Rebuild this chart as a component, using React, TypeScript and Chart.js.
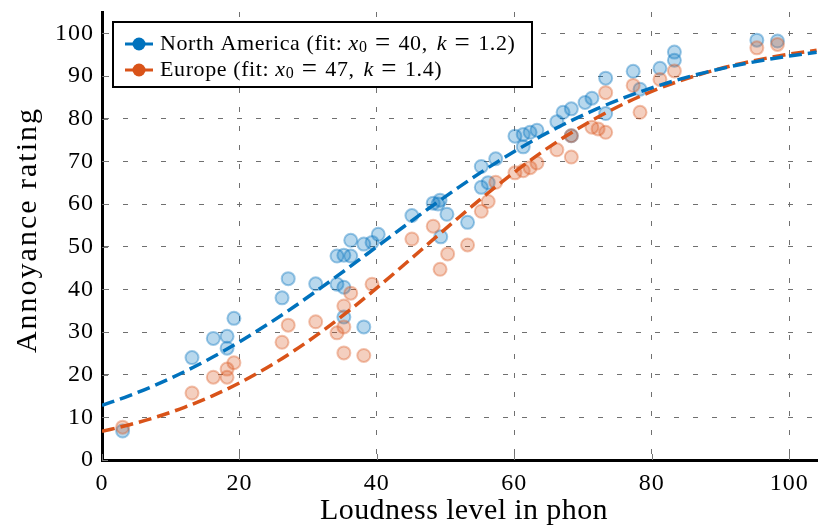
import React, { useEffect, useRef } from "react";
import { Chart, registerables } from "chart.js";
Chart.register(...registerables);

// ---- data ----
const seriesNames = ["North America", "Europe"];
const fitX0 = [40, 47];
const fitK = [1.2, 1.4];
const xTitle = "Loudness level in phon";
const yTitle = "Annoyance rating";

const naLoudness = [3, 13.1, 16.2, 18.2, 18.2, 19.2, 26.2, 27.1, 31.1, 34.2, 35.2, 36.2, 36.2, 34.2, 35.2, 35.2, 38.1, 38.1, 39.3, 40.2, 45.1, 48.2, 49.2, 48.9, 50.2, 49.3, 53.2, 55.2, 55.2, 56.2, 57.3, 60.1, 61.3, 61.3, 62.3, 63.3, 66.2, 67.1, 68.3, 68.3, 70.3, 71.3, 73.3, 73.3, 77.3, 78.3, 81.2, 83.3, 83.3, 95.3, 98.3];
const naRating = [6.8, 24, 28.5, 29, 26.2, 33.2, 38, 42.5, 41.3, 47.8, 48, 47.8, 51.5, 41.2, 40.5, 33.5, 31.2, 50.6, 51, 52.9, 57.3, 60.2, 60.9, 60, 57.6, 52.3, 55.7, 68.8, 63.9, 65, 70.6, 75.9, 76.3, 73.4, 76.8, 77.3, 79.3, 81.5, 82.3, 76, 83.8, 84.8, 89.5, 81.2, 91.1, 86.9, 91.8, 95.6, 93.7, 98.4, 98.2];

const euLoudness = [3, 13.1, 16.2, 18.2, 18.2, 19.2, 26.2, 27.1, 31.1, 34.2, 35.2, 35.2, 35.2, 36.2, 38.1, 39.3, 45.1, 48.2, 49.2, 50.3, 53.2, 55.2, 56.2, 57.3, 60.1, 61.3, 62.3, 63.3, 66.2, 68.3, 68.3, 71.3, 72.2, 73.3, 73.3, 77.3, 78.3, 81.2, 83.3, 95.3, 98.3];
const euRating = [7.7, 15.7, 19.4, 21.3, 19.4, 22.8, 27.6, 31.6, 32.4, 29.8, 36.1, 31.2, 25.1, 39.1, 24.5, 41.2, 51.8, 54.8, 44.7, 48.3, 50.4, 58.3, 60.6, 65.1, 67.3, 67.8, 68.5, 69.6, 72.7, 76, 71, 78, 77.6, 76.8, 86.1, 87.8, 81.5, 89.2, 91.2, 96.6, 97.4];

// fitted curves, sampled every 4 phon
const fitLoudness = [0, 4, 8, 12, 16, 20, 24, 28, 32, 36, 40, 44, 48, 52, 56, 60, 64, 68, 72, 76, 80, 84, 88, 92, 96, 100, 104];
const naFit = [12.79, 15.09, 17.71, 20.69, 24.01, 27.69, 31.69, 35.98, 40.52, 45.21, 50, 54.79, 59.48, 64.02, 68.31, 72.31, 75.99, 79.31, 82.29, 84.91, 87.21, 89.21, 90.92, 92.39, 93.63, 94.69, 95.57];
const euFit = [6.71, 8.26, 10.12, 12.35, 14.98, 18.06, 21.62, 25.65, 30.15, 35.07, 40.32, 45.81, 51.4, 56.96, 62.34, 67.43, 72.15, 76.42, 80.22, 83.53, 86.39, 88.82, 90.85, 92.55, 93.96, 95.11, 96.05];

const xTicks = [0, 20, 40, 60, 80, 100];
const yTicks = [0, 10, 20, 30, 40, 50, 60, 70, 80, 90, 100];

const BLUE = "#0072BD";
const ORANGE = "#D95319";
const SERIF = "'Liberation Serif', 'Times New Roman', serif";

const pts = (xs: number[], ys: number[]) => xs.map((x, i) => ({ x, y: ys[i] }));

const extrasPlugin = {
  id: "extras",
  beforeDraw(chart: any) {
    (chart.ctx as any).letterSpacing = "1px";
  },
  afterDraw(chart: any) {
    const ctx = chart.ctx as CanvasRenderingContext2D;
    const area = chart.chartArea;
    const xs = chart.scales.x;
    const ys = chart.scales.y;
    ctx.save();
    // inward tick marks
    ctx.strokeStyle = "#777";
    ctx.lineWidth = 1;
    yTicks.forEach((t) => {
      const py = Math.round(ys.getPixelForValue(t)) + 0.5;
      ctx.beginPath();
      ctx.moveTo(area.left, py);
      ctx.lineTo(area.left + 6, py);
      ctx.stroke();
    });
    xTicks.forEach((t) => {
      const px = Math.round(xs.getPixelForValue(t)) + 0.5;
      ctx.beginPath();
      ctx.moveTo(px, area.bottom);
      ctx.lineTo(px, area.bottom - 6);
      ctx.stroke();
    });

    // axis titles
    ctx.fillStyle = "#000";
    ctx.font = `30px ${SERIF}`;
    (ctx as any).letterSpacing = "0.4px";
    ctx.textAlign = "center";
    ctx.textBaseline = "alphabetic";
    ctx.fillText(xTitle, (area.left + area.right) / 2 + 4, 519);
    ctx.save();
    ctx.translate(28, (area.top + area.bottom) / 2 - 6);
    ctx.rotate(-Math.PI / 2);
    (ctx as any).letterSpacing = "2px";
    ctx.textBaseline = "middle";
    ctx.fillText(yTitle, 0, 0);
    ctx.restore();

    // legend
    const bx = 113, by = 22, bw = 419, bh = 65;
    ctx.fillStyle = "#fff";
    ctx.fillRect(bx, by, bw, bh);
    ctx.strokeStyle = "#000";
    ctx.lineWidth = 2;
    ctx.strokeRect(bx, by, bw, bh);
    const colors = [BLUE, ORANGE];
    const rows = [44, 70];
    seriesNames.forEach((name, i) => {
      const cy = rows[i];
      ctx.strokeStyle = colors[i];
      ctx.lineWidth = 3;
      ctx.beginPath();
      ctx.moveTo(125, cy);
      ctx.lineTo(153, cy);
      ctx.stroke();
      ctx.fillStyle = colors[i];
      ctx.beginPath();
      ctx.arc(139, cy, 6.5, 0, Math.PI * 2);
      ctx.fill();
      // [text, style, dy, gapBefore, slotWidth]
      const parts: [string, string, number, number, number][] = [
        [name + " (fit: ", "normal", 0, 0, 0],
        ["x", "italic", 0, 0, 0],
        ["0", "sub", 4, 0, 0],
        ["=", "eq", 0, 5, 20],
        [String(fitX0[i]) + ",", "normal", 0, 6, 0],
        ["k", "italic", 0, 9, 0],
        ["=", "eq", 0, 5, 20],
        [fitK[i].toFixed(1) + ")", "normal", 0, 6, 0],
      ];
      let x = 160;
      ctx.fillStyle = "#000";
      ctx.textBaseline = "middle";
      (ctx as any).letterSpacing = "0.6px";
      parts.forEach(([t, st, dy, gap, slot]) => {
        if (st === "italic") ctx.font = `italic 22px ${SERIF}`;
        else if (st === "sub") ctx.font = `16px ${SERIF}`;
        else if (st === "eq") ctx.font = `27px ${SERIF}`;
        else ctx.font = `22px ${SERIF}`;
        x += gap;
        const w = ctx.measureText(t).width;
        if (slot > 0) {
          ctx.textAlign = "center";
          (ctx as any).letterSpacing = "0px";
          ctx.fillText(t, x + slot / 2, cy + dy);
          (ctx as any).letterSpacing = "0.6px";
          x += slot;
        } else {
          ctx.textAlign = "left";
          ctx.fillText(t, x, cy + dy);
          x += w;
        }
      });
    });
    ctx.restore();
  },
};

export default function App() {
  const ref = useRef<HTMLCanvasElement | null>(null);
  useEffect(() => {
    if (!ref.current) return;
    const chart = new Chart(ref.current, {
      type: "scatter",
      data: {
        datasets: [
          {
            type: "line",
            label: "NA fit",
            data: pts(fitLoudness, naFit),
            borderColor: BLUE,
            borderWidth: 3.5,
            borderDash: [13, 6],
            pointRadius: 0,
            fill: false,
            cubicInterpolationMode: "monotone",
            order: 0,
          } as any,
          {
            type: "line",
            label: "EU fit",
            data: pts(fitLoudness, euFit),
            borderColor: ORANGE,
            borderWidth: 3.5,
            borderDash: [13, 6],
            pointRadius: 0,
            fill: false,
            cubicInterpolationMode: "monotone",
            order: 0,
          } as any,
          {
            label: seriesNames[1],
            data: pts(euLoudness, euRating),
            backgroundColor: "rgba(217,83,25,0.28)",
            borderColor: "rgba(217,83,25,0.35)",
            borderWidth: 2,
            pointRadius: 6.5,
            order: 1,
          },
          {
            label: seriesNames[0],
            data: pts(naLoudness, naRating),
            backgroundColor: "rgba(0,114,189,0.28)",
            borderColor: "rgba(0,114,189,0.38)",
            borderWidth: 2,
            pointRadius: 6.5,
            order: 2,
          },
        ],
      },
      options: {
        responsive: false,
        animation: false,
        devicePixelRatio: 1,
        layout: { autoPadding: false, padding: { top: 12, right: 0, left: 0, bottom: 0 } },
        plugins: { legend: { display: false }, tooltip: { enabled: false } },
        scales: {
          x: {
            type: "linear",
            min: 0,
            max: 104.2,
            afterBuildTicks: (s: any) => {
              s.ticks = xTicks.map((v) => ({ value: v }));
            },
            afterFit: (s: any) => {
              s.height = 66;
              s.paddingLeft = 0;
              s.paddingRight = 0;
            },
            ticks: { color: "#000", font: { family: SERIF, size: 24 }, padding: 9, maxRotation: 0 },
            grid: { color: "#707070", lineWidth: 1, drawTicks: false },
            border: { display: true, color: "#000", width: 3, dash: [5, 14] },
            title: { display: false },
          },
          y: {
            type: "linear",
            min: 0,
            max: 105,
            afterBuildTicks: (s: any) => {
              s.ticks = yTicks.map((v) => ({ value: v }));
            },
            afterFit: (s: any) => {
              s.width = 102;
              s.paddingTop = 0;
              s.paddingBottom = 0;
            },
            ticks: { color: "#000", font: { family: SERIF, size: 24 }, padding: 8 },
            grid: { color: "#707070", lineWidth: 1, drawTicks: false },
            border: { display: true, color: "#000", width: 3, dash: [5, 14] },
            title: { display: false },
          },
        },
      } as any,
      plugins: [extrasPlugin],
    });
    return () => chart.destroy();
  }, []);
  return (
    <div style={{ position: "fixed", left: 0, top: 0, width: 818, height: 526, background: "#fff" }}>
      <canvas ref={ref} width={818} height={526} style={{ display: "block" }} />
    </div>
  );
}
